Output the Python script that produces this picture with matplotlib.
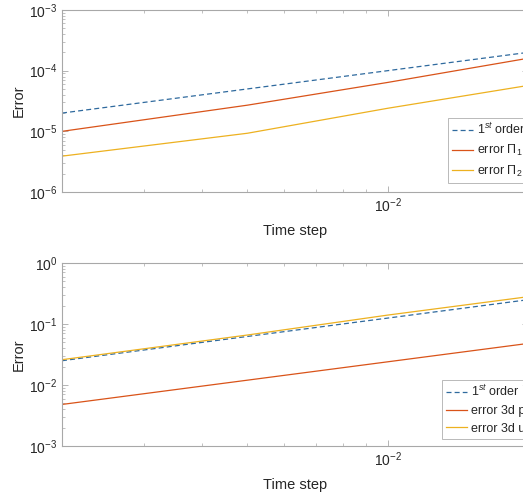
import matplotlib
matplotlib.use("Agg")
import matplotlib.pyplot as plt
from matplotlib.ticker import NullFormatter, FixedLocator

plt.rcParams['font.family'] = ['Liberation Sans', 'DejaVu Sans']
plt.rcParams['mathtext.fontset'] = 'custom'
plt.rcParams['mathtext.rm'] = 'Liberation Sans'
plt.rcParams['mathtext.it'] = 'Liberation Sans:italic'

# ---- data ----
time_steps = [0.002, 0.005, 0.01, 0.02]

top_first_order = [2.0e-5, 5.0e-5, 1.0e-4, 2.0e-4]
top_err_pi1 = [1.0e-5, 2.7e-5, 6.4e-5, 1.6e-4]
top_err_pi2 = [3.9e-6, 9.3e-6, 2.4e-5, 5.7e-5]

bot_first_order = [0.025, 0.0625, 0.125, 0.25]
bot_err_p = [0.0048, 0.012, 0.024, 0.048]
bot_err_u = [0.026, 0.066, 0.14, 0.28]

top_labels = ['1$^{st}$ order', r'error $\Pi_1$', r'error $\Pi_2$']
bot_labels = ['1$^{st}$ order', 'error 3d p', 'error 3d u']

xlabel = 'Time step'
ylabel = 'Error'

BLUE = '#2f6a9e'
RED = '#D95319'
YEL = '#EDB120'
AX = '#262626'
SPINE = '#a8a8a8'

W, H = 523, 497
fig = plt.figure(figsize=(W / 100, H / 100), dpi=100)

def px_axes(l, t, r, b):
    return fig.add_axes([l / W, 1 - b / H, (r - l) / W, (b - t) / H])

ax1 = px_axes(62, 10, 528, 192)
ax2 = px_axes(62, 263, 528, 446)

def style(ax, ylim, leg_anchor, series, labels):
    styles = [('--', BLUE), ('-', RED), ('-', YEL)]
    for (ls, c), ys, lab in zip(styles, series, labels):
        if ls == '--':
            ax.loglog(time_steps, ys, ls, color=c, lw=0.9, label=lab, dashes=(4, 2.5))
        else:
            ax.loglog(time_steps, ys, ls, color=c, lw=0.9, label=lab)
    ax.set_xlim(0.002, 0.02)
    ax.set_ylim(*ylim)
    for s in ax.spines.values():
        s.set_color(SPINE)
        s.set_linewidth(0.8)
    ax.tick_params(which='both', direction='in', top=True, right=True,
                   colors=SPINE, labelcolor=AX, labelsize=10)
    ax.tick_params(which='major', length=4, width=0.6)
    ax.tick_params(which='minor', length=2, width=0.5)
    ax.xaxis.set_major_locator(FixedLocator([0.01]))
    ax.xaxis.set_minor_formatter(NullFormatter())
    ax.yaxis.set_minor_formatter(NullFormatter())
    ax.set_xlabel(xlabel, fontsize=10.5, color=AX, labelpad=6)
    ax.set_ylabel(ylabel, fontsize=10.5, color=AX, labelpad=2)
    leg = ax.legend(loc='lower left', bbox_to_anchor=leg_anchor, fontsize=9,
                    frameon=True, fancybox=False, borderpad=0.35,
                    handlelength=1.7, handletextpad=0.25, labelspacing=0.45,
                    borderaxespad=0)
    leg.get_frame().set_edgecolor(SPINE)
    leg.get_frame().set_linewidth(0.7)
    for t in leg.get_texts():
        t.set_color(AX)

style(ax1, (1e-6, 1e-3), (0.828, 0.049),
      [top_first_order, top_err_pi1, top_err_pi2], top_labels)
style(ax2, (1e-3, 1e0), (0.815, 0.038),
      [bot_first_order, bot_err_p, bot_err_u], bot_labels)

fig.savefig('out.png', dpi=100)
